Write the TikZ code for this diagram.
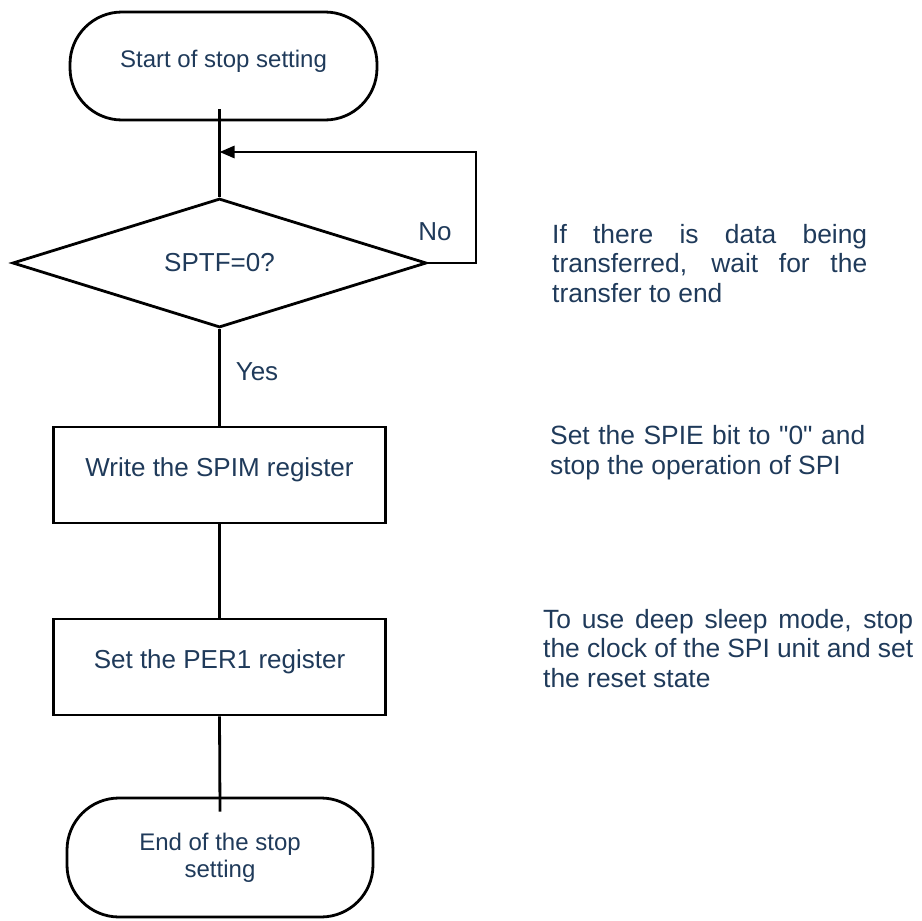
\documentclass[tikz,border=0pt]{standalone}
\usepackage{fontspec}
\setmainfont{Liberation Sans}
\usetikzlibrary{shapes.geometric,arrows.meta}
\definecolor{txt}{HTML}{1F3A5A}
\newcommand\sq{\XeTeXglyph\XeTeXcharglyph"22\relax}
\begin{document}
\begin{tikzpicture}[x=1pt,y=-1pt,
  every node/.style={text=txt,font=\fontsize{26}{29}\selectfont},
  ln/.style={line width=2.8pt,draw=black},
  term/.style={ln,rounded corners=52pt,minimum width=307pt,minimum height=108pt,inner sep=0pt,align=center,font=\fontsize{24}{27}\selectfont},
  proc/.style={ln,minimum width=332pt,minimum height=96pt,inner sep=0pt,text height=19pt,text depth=17pt},
  dec/.style={ln,diamond,minimum width=414pt,minimum height=128pt,inner sep=0pt},
  note/.style={font=\fontsize{26.4}{29.5}\selectfont,align=left,inner sep=0pt,anchor=base west},
  conn/.style={line width=2.8pt,draw=black}
]
\useasboundingbox (0,0) rectangle (922,921);
\node[term,text height=17pt,text depth=15pt] (start) at (223.5,66) {Start of stop setting};
\node[dec] (dec) at (219.5,263) {SPTF=0?};
\node[proc] (p1) at (219.5,475) {Write the SPIM register};
\node[proc] (p2) at (219.5,667) {Set the PER1 register};
\node[term,minimum width=306pt,minimum height=119pt] (end) at (220,857.5) {End of the stop\\setting};
\coordinate (join) at (219.5,152);
\path (dec.north |- start.south) coordinate (s0);
\draw[conn] ([yshift=12pt]s0) -- (dec.north);
\draw[conn,-{Triangle[length=15pt,width=12pt]}] (dec.east) -- ++(48,0) |- (join);
\draw[conn] (dec.south) -- (p1.north);
\draw[conn] (p1.south) -- (p2.north);
\path (end.north) coordinate (e0);
\draw[conn] (p2.south) -- ([yshift=-15pt]e0);
\node (no) at (435,232) {No};
\node (yes) at (257,372) {Yes};
\node[note] (n1) at (552,302) {\makebox[315pt][s]{If there is data being}\\\makebox[315pt][s]{transferred, wait for the}\\transfer to end};
\node[note] (n2) at (550,474) {\makebox[315pt][s]{Set the SPIE bit to \sq0\sq{} and}\\stop the operation of SPI};
\node[note] (n3) at (543,687) {\makebox[370pt][s]{To use deep sleep mode, stop}\\\makebox[370pt][s]{the clock of the SPI unit and set}\\the reset state};
\end{tikzpicture}
\end{document}
